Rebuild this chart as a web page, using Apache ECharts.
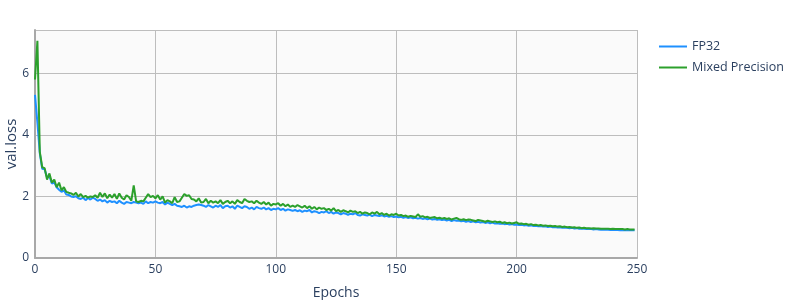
<!DOCTYPE html>
<html>
<head>
<meta charset="utf-8">
<script src="https://cdn.jsdelivr.net/npm/echarts@6/dist/echarts.min.js"></script>
<style>html,body{margin:0;padding:0;background:#fff;}#c{width:800px;height:300px;}</style>
</head>
<body>
<div id="c"></div>
<script>
const seriesNames = ["FP32", "Mixed Precision"];
const xTicks = [0, 50, 100, 150, 200, 250];
const yTicks = [0, 2, 4, 6];
const fp32 = [
5.30,4.40,3.40,2.90,2.88,2.62,2.66,2.42,2.45,2.30,
2.22,2.15,2.20,2.06,2.05,2.00,1.98,2.01,1.94,1.92,
1.96,1.88,1.95,1.90,1.96,1.92,1.86,1.90,1.84,1.88,
1.80,1.86,1.82,1.84,1.78,1.86,1.80,1.76,1.82,1.80,
1.78,1.82,1.80,1.78,1.80,1.76,1.84,1.78,1.82,1.80,
1.84,1.80,1.78,1.82,1.74,1.80,1.76,1.72,1.76,1.70,
1.68,1.66,1.70,1.64,1.68,1.66,1.70,1.72,1.74,1.72,
1.70,1.66,1.72,1.68,1.64,1.70,1.66,1.72,1.62,1.68,
1.70,1.64,1.68,1.60,1.70,1.66,1.62,1.68,1.66,1.60,
1.64,1.58,1.66,1.62,1.60,1.64,1.58,1.62,1.56,1.60,
1.58,1.62,1.56,1.60,1.54,1.58,1.56,1.53,1.56,1.52,
1.55,1.50,1.54,1.52,1.56,1.48,1.52,1.50,1.46,1.50,
1.48,1.52,1.46,1.50,1.44,1.48,1.46,1.42,1.46,1.44,
1.40,1.44,1.42,1.46,1.40,1.38,1.42,1.40,1.38,1.41,
1.36,1.40,1.38,1.36,1.39,1.35,1.37,1.34,1.36,1.33,
1.35,1.32,1.34,1.31,1.33,1.30,1.32,1.29,1.31,1.28,
1.30,1.27,1.29,1.26,1.28,1.25,1.27,1.24,1.26,1.23,
1.25,1.22,1.24,1.20,1.23,1.21,1.22,1.19,1.21,1.18,
1.20,1.17,1.19,1.16,1.18,1.15,1.17,1.14,1.16,1.13,
1.15,1.12,1.13,1.11,1.12,1.10,1.11,1.09,1.10,1.08,
1.09,1.07,1.08,1.06,1.07,1.05,1.06,1.04,1.05,1.03,
1.04,1.02,1.03,1.01,1.02,1.00,1.01,0.99,1.00,0.98,
0.99,0.98,0.97,0.98,0.96,0.97,0.95,0.96,0.95,0.94,
0.95,0.94,0.93,0.94,0.93,0.92,0.93,0.92,0.92,0.91,
0.92,0.91,0.91,0.90,0.91,0.90,0.90,0.91,0.90,0.90
];
const mixed = [
5.80,7.06,3.45,2.95,2.92,2.55,2.75,2.45,2.55,2.30,
2.45,2.20,2.30,2.15,2.12,2.10,2.05,2.12,2.00,2.08,
1.98,2.02,1.96,2.00,1.98,2.04,1.96,2.12,1.98,2.10,
1.94,2.06,1.96,2.08,1.92,2.10,1.96,1.90,2.04,1.98,
1.86,2.36,1.84,1.82,1.86,1.84,1.96,2.08,1.98,2.02,
1.94,2.04,1.90,2.00,1.80,1.88,1.84,1.78,1.98,1.82,
1.84,1.96,2.08,2.02,2.04,1.92,1.90,1.84,1.94,1.80,
1.82,1.92,1.78,1.86,1.80,1.84,1.78,1.88,1.76,1.82,
1.86,1.78,1.84,1.76,1.88,1.82,1.78,1.92,1.86,1.82,
1.84,1.78,1.86,1.80,1.76,1.82,1.74,1.80,1.70,1.76,
1.74,1.78,1.70,1.76,1.68,1.74,1.66,1.70,1.66,1.72,
1.68,1.64,1.70,1.62,1.68,1.60,1.66,1.58,1.64,1.60,
1.62,1.56,1.60,1.54,1.62,1.52,1.56,1.50,1.55,1.52,
1.48,1.54,1.50,1.52,1.46,1.50,1.44,1.48,1.46,1.42,
1.48,1.44,1.50,1.42,1.46,1.40,1.44,1.38,1.42,1.40,
1.44,1.38,1.40,1.36,1.38,1.34,1.37,1.35,1.33,1.42,
1.34,1.36,1.32,1.34,1.30,1.32,1.33,1.29,1.31,1.28,
1.30,1.27,1.29,1.25,1.28,1.30,1.26,1.24,1.26,1.23,
1.25,1.24,1.22,1.20,1.24,1.22,1.20,1.18,1.21,1.19,
1.17,1.19,1.16,1.18,1.14,1.16,1.13,1.15,1.12,1.14,
1.16,1.11,1.12,1.10,1.11,1.08,1.10,1.07,1.08,1.06,
1.07,1.05,1.06,1.04,1.05,1.03,1.04,1.02,1.03,1.01,
1.02,1.00,1.01,0.99,1.00,0.98,0.99,0.97,0.98,0.97,
0.97,0.96,0.97,0.96,0.96,0.95,0.95,0.95,0.95,0.94,
0.95,0.94,0.94,0.94,0.94,0.93,0.94,0.93,0.93,0.93
];
const epochs = fp32.map((_, i) => i);
const font = '"Open Sans", "Noto Sans", sans-serif';
const textColor = '#2a3f5f';
const chart = echarts.init(document.getElementById('c'), null, {renderer: 'canvas'});
chart.setOption({
  animation: false,
  backgroundColor: '#ffffff',
  textStyle: {fontFamily: font},
  grid: {left: 35, right: 163, top: 30, bottom: 42, show: true, backgroundColor: '#fafafa', borderWidth: 0,
         containLabel: false, outerBoundsMode: 'none'},
  legend: {
    orient: 'vertical', left: 654, top: 35, itemGap: 8,
    icon: 'rect', itemWidth: 28, itemHeight: 2,
    textStyle: {color: textColor, fontSize: 12.5, fontFamily: font},
    data: seriesNames
  },
  xAxis: {
    type: 'value', min: xTicks[0], max: xTicks[xTicks.length - 1], interval: 50,
    name: 'Epochs', nameLocation: 'middle', nameGap: 28, nameMoveOverlap: false,
    nameTextStyle: {color: textColor, fontSize: 14, fontFamily: font},
    axisLine: {show: true, onZero: false, lineStyle: {color: '#a8a8a8', width: 2}},
    axisTick: {show: false},
    axisLabel: {color: textColor, fontSize: 12, margin: 6, fontFamily: font},
    splitLine: {show: true, lineStyle: {color: '#bdbdbd', width: 1}}
  },
  yAxis: {
    type: 'value', min: 0, max: 7.41, interval: 2,
    name: 'val.loss', nameLocation: 'middle', nameGap: 16, nameRotate: 90, nameMoveOverlap: false,
    nameTextStyle: {color: textColor, fontSize: 15, fontFamily: font},
    axisLine: {show: true, onZero: false, lineStyle: {color: '#a8a8a8', width: 2}},
    axisTick: {show: false},
    axisLabel: {color: textColor, fontSize: 12, margin: 6, fontFamily: font,
      formatter: v => yTicks.includes(v) ? String(v) : ''},
    splitLine: {show: true, lineStyle: {color: '#bdbdbd', width: 1}}
  },
  series: [
    {name: seriesNames[0], type: 'line', data: epochs.map((e, i) => [e, fp32[i]]), showSymbol: false, symbol: 'none',
     lineStyle: {color: '#1e90ff', width: 2}, itemStyle: {color: '#1e90ff'}, z: 2},
    {name: seriesNames[1], type: 'line', data: epochs.map((e, i) => [e, mixed[i]]), showSymbol: false, symbol: 'none',
     lineStyle: {color: '#2ca02c', width: 2}, itemStyle: {color: '#2ca02c'}, z: 3}
  ]
});
</script>
</body>
</html>
